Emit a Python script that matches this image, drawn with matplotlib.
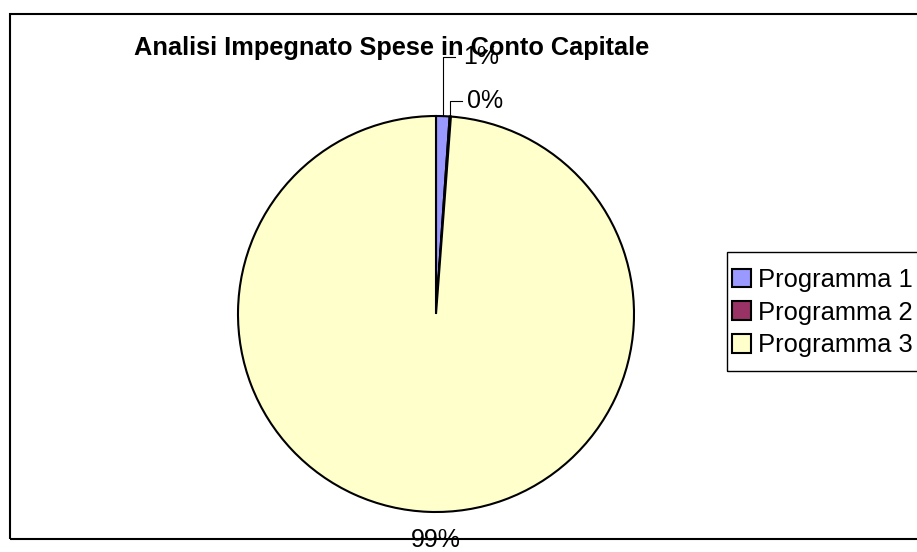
import numpy as np
import matplotlib.pyplot as plt
from matplotlib.patches import Rectangle

plt.rcParams['font.family'] = ['Liberation Sans', 'DejaVu Sans']

# data
categories = ["Programma 1", "Programma 2", "Programma 3"]
values = [1.1, 0.1, 98.8]
colors = ["#9999FF", "#993366", "#FFFFCC"]
title = "Analisi Impegnato Spese in Conto Capitale"

W, H = 917, 552
fig = plt.figure(figsize=(W / 100, H / 100), dpi=100)

# pie axes: centre (436, 314) px, radius 198 px
cx, cy, r = 436, 314, 198
ax = fig.add_axes([(cx - r) / W, (H - cy - r) / H, 2 * r / W, 2 * r / H])
wedges, _ = ax.pie(values, colors=colors, startangle=90, counterclock=False,
                   radius=1, wedgeprops=dict(edgecolor="black", linewidth=1.5))
ax.set_xlim(-1, 1)
ax.set_ylim(-1, 1)
ax.set_aspect("equal")
ax.axis("off")

# percentage labels (Excel style)
pcts = [f"{round(v / sum(values) * 100):.0f}%" for v in values]
# text y, end of leader line x, text left x
label_pos = [(1.298, 0.096, 0.136), (1.076, 0.131, 0.157)]
for w, pct, (ty, lx, tx) in zip(wedges[:2], pcts[:2], label_pos):
    mid = np.deg2rad((w.theta1 + w.theta2) / 2)
    x0, y0 = np.cos(mid), np.sin(mid)
    ax.plot([x0, x0, lx], [y0, ty, ty], color="black", lw=0.8, clip_on=False)
    ax.text(tx, ty, pct, ha="left", va="center", fontsize=18)
ax.text(0, -1.14, pcts[2], ha="center", va="center", fontsize=18)

fig.text(392 / W, 1 - 48 / H, title, ha="center", va="center",
         fontsize=18.3, fontweight="bold")

# chart border (right side runs off the canvas)
fig.patches.append(Rectangle((9.5 / W, (H - 539) / H), 1.2, (539 - 14) / H,
                             transform=fig.transFigure, fill=False,
                             edgecolor="black", linewidth=1.5))

# legend box, also cut off at the right
fig.patches.append(Rectangle((727 / W, (H - 371) / H), 0.3, (371 - 252) / H,
                             transform=fig.transFigure, fill=False,
                             edgecolor="black", linewidth=1.0))
leg = fig.legend(wedges, categories, loc="upper left",
                 bbox_to_anchor=(732 / W, 1 - 268 / H), fontsize=18.4,
                 frameon=False, borderaxespad=0, borderpad=0,
                 handlelength=0.75, handleheight=0.75, handletextpad=0.28,
                 labelspacing=0.34)

fig.savefig("out.png", dpi=100)
